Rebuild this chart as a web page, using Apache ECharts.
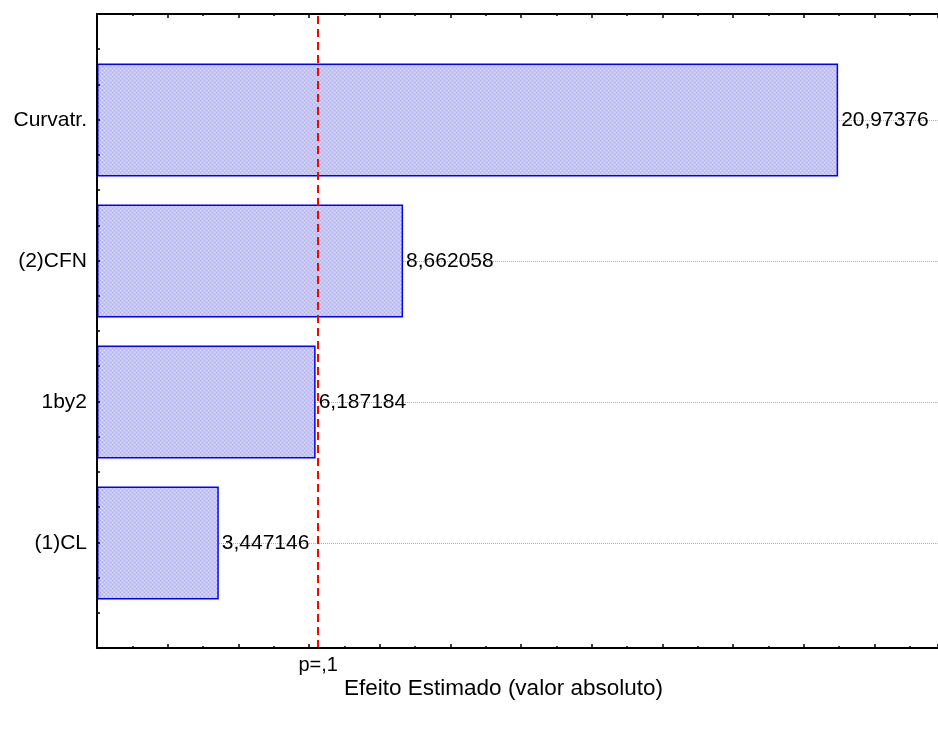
<!DOCTYPE html>
<html>
<head>
<meta charset="utf-8">
<script src="https://cdn.jsdelivr.net/npm/echarts@6/dist/echarts.min.js"></script>
<style>
html,body{margin:0;padding:0;background:#fff;overflow:hidden;}
#chart{width:938px;height:729px;}
</style>
</head>
<body>
<div id="chart"></div>
<script>
// Data (bottom to top)
var categories = ['(1)CL', '1by2', '(2)CFN', 'Curvatr.'];
var effects = [3.447146, 6.187184, 8.662058, 20.97376];
var effectLabels = ['3,447146', '6,187184', '8,662058', '20,97376'];
var criticalValue = 6.26;
var criticalLabel = 'p=,1';
var xAxisTitle = 'Efeito Estimado (valor absoluto)';
var xMax = 23.8;

// Dithered bar fill pattern
var pat = document.createElement('canvas');
pat.width = 4; pat.height = 4;
var pc = pat.getContext('2d');
pc.fillStyle = '#c4c4f6'; pc.fillRect(0, 0, 4, 4);
pc.fillStyle = '#b0b0f0';
pc.fillRect(0, 0, 1, 1); pc.fillRect(2, 2, 1, 1);
pc.fillStyle = '#dcdcfd';
pc.fillRect(2, 0, 1, 1); pc.fillRect(0, 2, 1, 1);

var font = 'Liberation Sans, Arial, sans-serif';
var chart = echarts.init(document.getElementById('chart'), null, {renderer: 'canvas'});

var gridRight = 0;
var option = {
  backgroundColor: '#fff',
  animation: false,
  grid: [
    {left: 97, right: gridRight, top: 14, bottom: 81, containLabel: false},
    {left: 97, right: gridRight, top: 49.5, bottom: 115.5, containLabel: false}
  ],
  xAxis: [
    {
      gridIndex: 0, type: 'value', min: 0, max: xMax, interval: 2, position: 'bottom', z: 10,
      name: xAxisTitle, nameLocation: 'middle', nameGap: 29,
      nameTextStyle: {fontFamily: font, fontSize: 22.5, color: '#000', padding: [0, 28, 0, 0]},
      axisLine: {show: true, onZero: false, lineStyle: {color: '#000', width: 2}},
      axisTick: {show: true, inside: true, length: 4, lineStyle: {color: '#000', width: 1.5}},
      minorTick: {show: true, splitNumber: 2, length: 2, lineStyle: {color: '#000', width: 1.5}},
      axisLabel: {show: false},
      splitLine: {show: false}
    },
    {
      gridIndex: 0, type: 'value', min: 0, max: xMax, interval: 2, position: 'top', z: 10,
      axisLine: {show: true, onZero: false, lineStyle: {color: '#000', width: 2}},
      axisTick: {show: true, inside: true, length: 4, lineStyle: {color: '#000', width: 1.5}},
      minorTick: {show: true, splitNumber: 2, length: 2, lineStyle: {color: '#000', width: 1.5}},
      axisLabel: {show: false},
      splitLine: {show: false}
    },
    {
      gridIndex: 1, type: 'value', min: 0, max: xMax, show: false
    }
  ],
  yAxis: [
    {
      gridIndex: 0, type: 'value', min: 0, max: 18, interval: 1, position: 'left', z: 10,
      axisLine: {show: true, onZero: false, lineStyle: {color: '#000', width: 2}},
      axisTick: {show: true, inside: true, length: 3, lineStyle: {color: '#000', width: 1.5}},
      axisLabel: {show: false},
      splitLine: {show: false}
    },
    {
      gridIndex: 1, type: 'category', data: categories,
      axisLine: {show: false},
      axisTick: {show: false},
      axisLabel: {show: true, margin: 10, fontFamily: font, fontSize: 21, color: '#000'},
      splitLine: {show: false}
    }
  ],
  series: [
    {
      type: 'bar',
      xAxisIndex: 2, yAxisIndex: 1,
      data: effects,
      barWidth: 113,
      itemStyle: {color: {image: pat, repeat: 'repeat'}, borderColor: '#0000ff', borderWidth: 1.5},
      label: {
        show: true, position: 'right', distance: 3,
        fontFamily: font, fontSize: 21, color: '#000',
        formatter: function (p) { return effectLabels[p.dataIndex]; }
      },
      z: 3,
      markLine: {
        z: 1, silent: true, symbol: 'none',
        label: {show: false},
        lineStyle: {type: 'dotted', color: '#b0b0b0', width: 1},
        data: categories.map(function (c) { return {yAxis: c}; })
      }
    },
    {
      type: 'line',
      xAxisIndex: 0, yAxisIndex: 0,
      data: [],
      markLine: {
        z: 6, silent: true, symbol: 'none',
        lineStyle: {type: [8, 5], color: '#ff0000', width: 2},
        label: {
          show: true, position: 'start', distance: 7, formatter: criticalLabel,
          fontFamily: font, fontSize: 20, color: '#000'
        },
        data: [{xAxis: criticalValue}]
      }
    }
  ]
};
chart.setOption(option);
</script>
</body>
</html>
